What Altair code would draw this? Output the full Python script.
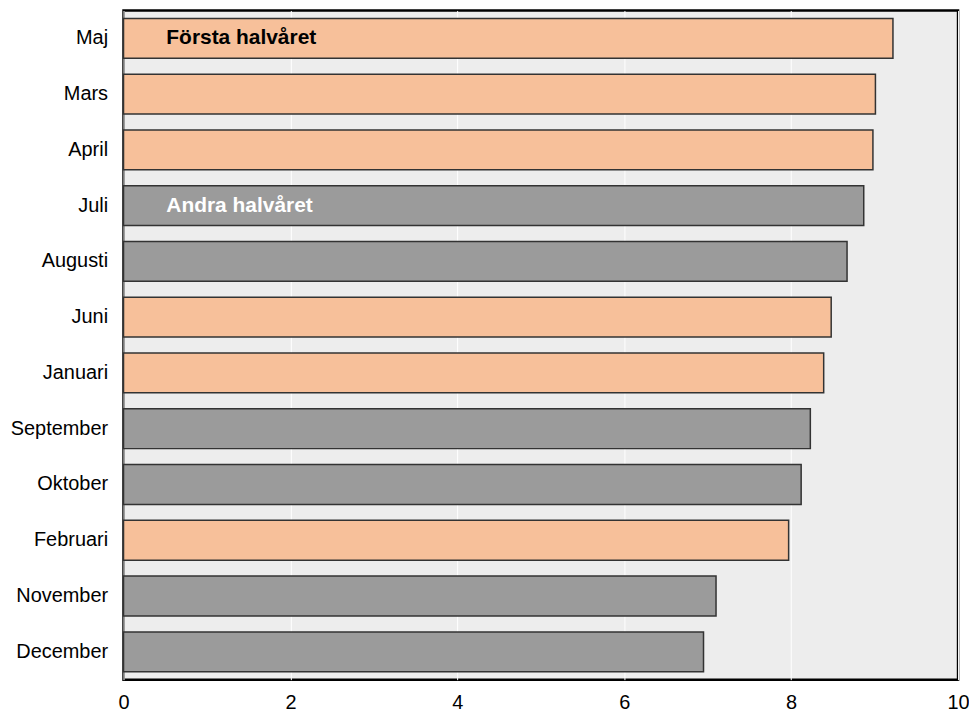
import altair as alt
import pandas as pd

months = ["Maj", "Mars", "April", "Juli", "Augusti", "Juni", "Januari",
          "September", "Oktober", "Februari", "November", "December"]
values = [9.22, 9.01, 8.98, 8.87, 8.67, 8.48, 8.39, 8.23, 8.12, 7.97, 7.10, 6.95]
halves = ["Första halvåret", "Första halvåret", "Första halvåret", "Andra halvåret",
          "Andra halvåret", "Första halvåret", "Första halvåret", "Andra halvåret",
          "Andra halvåret", "Första halvåret", "Andra halvåret", "Andra halvåret"]
label_months = ["Maj", "Juli"]
label_texts = ["Första halvåret", "Andra halvåret"]

df = pd.DataFrame({"month": months, "value": values, "half": halves})
lab = pd.DataFrame({"month": label_months, "text": label_texts, "half": label_texts})

font = "Liberation Sans"

y_enc = alt.Y("month:N", sort=months, title=None,
              scale=alt.Scale(paddingInner=0.286, paddingOuter=0.143),
              axis=alt.Axis(ticks=False, domain=False, grid=False, labelFontSize=20,
                            labelFont=font, labelColor="black", labelPadding=16))

bars = alt.Chart(df).mark_bar(stroke="#333333", strokeWidth=1.5).encode(
    x=alt.X("value:Q", title=None,
            scale=alt.Scale(domain=[0, 10], nice=False),
            axis=alt.Axis(values=[0, 2, 4, 6, 8, 10], ticks=False, domain=False,
                          grid=True, gridColor="white", gridWidth=1,
                          labelFontSize=20, labelFont=font, labelColor="black",
                          labelPadding=13, labelFlush=False)),
    y=y_enc,
    color=alt.Color("half:N", legend=None,
                    scale=alt.Scale(domain=["Första halvåret", "Andra halvåret"],
                                    range=["#f7c09a", "#9b9b9b"])),
)

texts = alt.Chart(lab).mark_text(align="left", baseline="middle", fontSize=21,
                                 fontWeight="bold", font=font).encode(
    x=alt.value(43),
    y=alt.Y("month:N", sort=months),
    color=alt.Color("half:N", legend=None,
                    scale=alt.Scale(domain=["Första halvåret", "Andra halvåret"],
                                    range=["black", "white"])),
    text="text:N",
)

chart = alt.layer(bars, texts).resolve_scale(color="independent").properties(
    width=838, height=672,
    padding={"left": 116, "top": 1, "right": 11, "bottom": 33},
    autosize=alt.AutoSizeParams(type="none"),
).configure_view(fill="#ededed", stroke="black", strokeWidth=2.5)

chart.save("out.html", embed_options={"renderer": "svg", "actions": False})
